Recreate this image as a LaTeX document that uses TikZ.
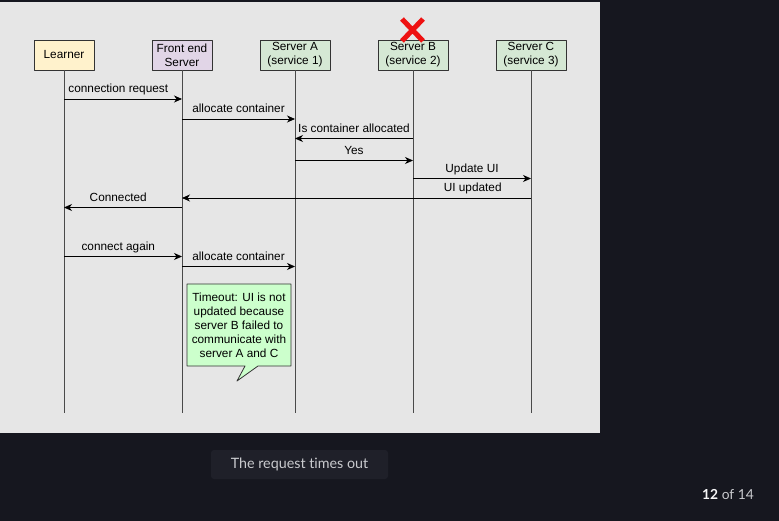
\documentclass[tikz,border=0pt]{standalone}
\usepackage{fontspec}
\usetikzlibrary{arrows.meta}
\newfontfamily\diafont{Liberation Sans}
\newfontfamily\uifont[Ligatures=NoCommon]{Lato}
\newcommand\lblfont{\diafont\fontsize{11.8}{14}\selectfont}
\definecolor{darkbg}{HTML}{16171F}
\definecolor{capbg}{HTML}{1F2029}
\definecolor{captext}{HTML}{C9CACE}
\definecolor{panel}{HTML}{E6E6E6}
\definecolor{boxline}{HTML}{333333}
\definecolor{lifeline}{HTML}{4A4A4A}
\definecolor{learnerfill}{HTML}{FFF2CC}
\definecolor{frontfill}{HTML}{E1D5E7}
\definecolor{srvfill}{HTML}{D5E8D4}
\definecolor{notefill}{HTML}{CCFFCC}
\definecolor{failred}{HTML}{EE1111}
\begin{document}
\begin{tikzpicture}[x=1pt, y=-1pt, line join=round, >={Stealth[length=8pt,width=7pt,inset=2.5pt]},
    actor/.style={draw=boxline, line width=0.8pt, minimum width=60pt, minimum height=30pt, inner sep=0pt, align=center, font=\lblfont},
    life/.style={draw=lifeline, line width=0.9pt},
    msg/.style={->, black, line width=0.8pt},
    lbl/.style={anchor=base, yshift=6pt, inner sep=0pt, font=\lblfont},
    notebox/.style={draw=boxline, fill=notefill, line width=0.8pt}]
    % background and panel
    \fill[darkbg] (0,0) rectangle (779,521);
    \fill[panel] (0,2) rectangle (600,433);
    % participants
    \node[actor, fill=learnerfill] (learner) at (64,55) {Learner};
    \node[actor, fill=frontfill] (front) at (182,55) {Front end\\Server};
    \node[actor, fill=srvfill, minimum width=70pt] (srva) at (295,55) {Server A\\(service 1)};
    \node[actor, fill=srvfill, minimum width=70pt] (srvb) at (413,55) {Server B\\(service 2)};
    \node[actor, fill=srvfill, minimum width=70pt] (srvc) at (531,55) {Server C\\(service 3)};
    \draw[failred, line width=5pt] (402,19) -- (423,41) (423,19) -- (402,41);
    % lifelines
    \foreach \p in {learner,front,srva,srvb,srvc}
        \draw[life] (\p) -- (\p |- 0,413);
    % messages
    \draw[msg] (learner |- 0,99) -- (front |- 0,99) node[lbl, pos=0.46] {connection request};
    \draw[msg] (front |- 0,119) -- (srva |- 0,119) node[lbl, midway] {allocate container};
    \draw[msg] (srvb |- 0,138.5) -- (srva |- 0,138.5) node[lbl, midway] {Is container allocated};
    \draw[msg] (srva |- 0,160.5) -- (srvb |- 0,160.5) node[lbl, midway] {Yes};
    \draw[msg] (srvb |- 0,178.5) -- (srvc |- 0,178.5) node[lbl, midway] {Update UI};
    \draw[msg] (srvc |- 0,198) -- (front |- 0,198) node[lbl, pos=0.167] {UI updated};
    \draw[msg] (front |- 0,207.5) -- (learner |- 0,207.5) node[lbl, pos=0.54] {Connected};
    \draw[msg] (learner |- 0,256.5) -- (front |- 0,256.5) node[lbl, pos=0.46] {connect again};
    \draw[msg] (front |- 0,266.5) -- (srva |- 0,266.5) node[lbl, midway] {allocate container};
    % timeout note
    \draw[notebox] (187,284) -- (291,284) -- (291,366) -- (258,366) -- (237,381) -- (245,366) -- (187,366) -- cycle;
    \node[align=center, font=\lblfont, inner sep=0pt] (note) at (239,325.5)
        {Timeout: UI is not\\updated because\\server B failed to\\communicate with\\server A and C};
    % caption and page count
    \fill[capbg, rounded corners=3pt] (211,450) rectangle (388,479);
    \node[captext, font=\uifont\fontsize{14.3}{17}\selectfont] (caption) at (299.5,464.5) {The request times out};
    \node[anchor=east, inner sep=0pt, captext, font=\uifont\fontsize{13.8}{16}\selectfont] (pages) at (754,495) {\textcolor{white!85!captext}{\bfseries 12} of 14};
\end{tikzpicture}
\end{document}
